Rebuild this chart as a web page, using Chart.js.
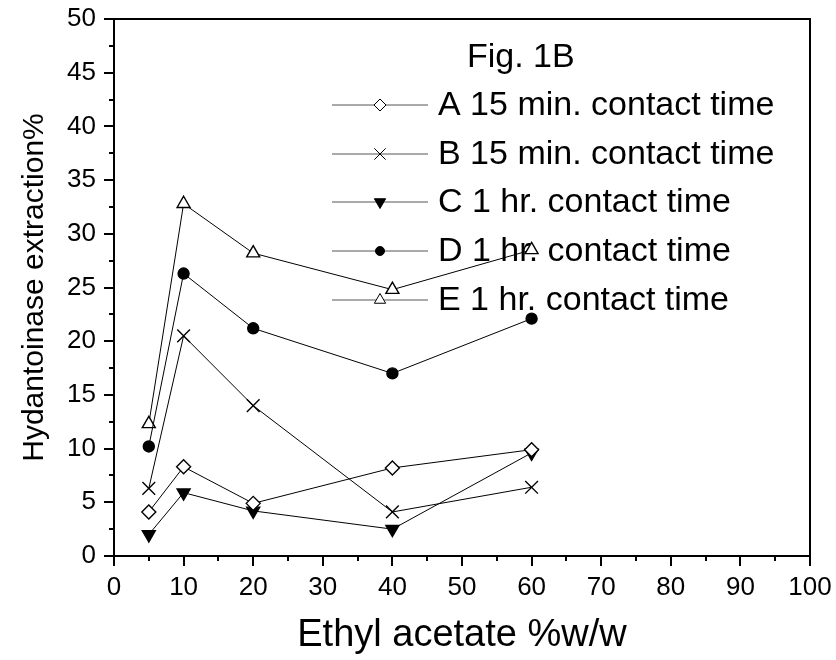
<!DOCTYPE html>
<html>
<head>
<meta charset="utf-8">
<script src="https://cdn.jsdelivr.net/npm/chart.js@4/dist/chart.umd.min.js"></script>
<style>
  html, body { margin: 0; padding: 0; background: #fff; }
  #wrap { width: 836px; height: 660px; }
</style>
</head>
<body>
<div id="wrap"><canvas id="myChart" width="836" height="660"></canvas></div>
<script>
// ethyl acetate %w/w
const ethylAcetate = [5, 10, 20, 40, 60];

// hydantoinase extraction %
const seriesA = [4.1, 8.3, 4.9, 8.2, 9.9];
const seriesB = [6.3, 20.5, 14.0, 4.1, 6.4];
const seriesC = [2.0, 5.9, 4.2, 2.5, 9.6];
const seriesD = [10.2, 26.3, 21.2, 17.0, 22.1];
const seriesE = [12.3, 32.8, 28.2, 24.8, 28.5];

const seriesLabels = [
  'A 15 min. contact time',
  'B 15 min. contact time',
  'C 1 hr. contact time',
  'D 1 hr. contact time',
  'E 1 hr. contact time',
];

const xTicks = [0, 10, 20, 30, 40, 50, 60, 70, 80, 90, 100];
const yTicks = [0, 5, 10, 15, 20, 25, 30, 35, 40, 45, 50];

const FONT = "'Liberation Sans', Arial, sans-serif";

// marker styles for each series
const markers = [
  { pointStyle: 'rectRot', radius: 7, rotation: 0, fill: '#fff' },
  { pointStyle: 'crossRot', radius: 9, rotation: 0, fill: '#000' },
  { pointStyle: 'triangle', radius: 7.5, rotation: 180, fill: '#000' },
  { pointStyle: 'circle', radius: 5.5, rotation: 0, fill: '#000' },
  { pointStyle: 'triangle', radius: 7.5, rotation: 0, fill: '#fff' },
];

const allSeries = [seriesA, seriesB, seriesC, seriesD, seriesE];

const datasets = allSeries.map((vals, i) => ({
  label: seriesLabels[i],
  data: vals.map((v, j) => ({ x: ethylAcetate[j], y: v })),
  showLine: true,
  borderColor: '#000',
  borderWidth: 1,
  pointStyle: markers[i].pointStyle,
  pointRadius: markers[i].radius,
  pointRotation: markers[i].rotation,
  pointBackgroundColor: markers[i].fill,
  pointBorderColor: '#000',
  pointBorderWidth: 1.4,
  tension: 0,
}));

// minor/major tick marks, frame and the in-plot legend
const decorPlugin = {
  id: 'decor',
  afterDraw(chart) {
    const ctx = chart.ctx;
    const area = chart.chartArea;
    const xs = chart.scales.x;
    const ys = chart.scales.y;
    ctx.save();
    ctx.strokeStyle = '#000';
    ctx.lineWidth = 2;
    ctx.strokeRect(area.left, area.top, area.right - area.left, area.bottom - area.top);

    // x ticks
    for (let v = 0; v <= 100; v += 5) {
      const px = Math.round(xs.getPixelForValue(v));
      const len = xTicks.includes(v) ? 10 : 5;
      ctx.beginPath();
      ctx.moveTo(px, area.bottom);
      ctx.lineTo(px, area.bottom + len);
      ctx.stroke();
    }
    // y ticks
    for (let v = 0; v <= 50; v += 2.5) {
      const py = Math.round(ys.getPixelForValue(v));
      const len = yTicks.includes(v) ? 10 : 5;
      ctx.beginPath();
      ctx.moveTo(area.left, py);
      ctx.lineTo(area.left - len, py);
      ctx.stroke();
    }

    // legend
    ctx.fillStyle = '#000';
    ctx.textBaseline = 'middle';
    ctx.textAlign = 'left';
    ctx.font = '34px ' + FONT;
    ctx.fillText('Fig. 1B', 467, 58);
    const rowY = [105, 154, 202, 251, 300];
    seriesLabels.forEach((lab, i) => {
      const y = rowY[i];
      ctx.strokeStyle = '#555';
      ctx.lineWidth = 1;
      ctx.beginPath();
      ctx.moveTo(332, y);
      ctx.lineTo(428, y);
      ctx.stroke();
      ctx.fillStyle = markers[i].fill;
      ctx.strokeStyle = '#000';
      Chart.helpers.drawPoint(ctx, {
        pointStyle: markers[i].pointStyle,
        radius: markers[i].radius - 1,
        rotation: markers[i].rotation,
        borderWidth: 1.3,
      }, 380, y);
      ctx.fillStyle = '#000';
      ctx.fillText(lab, 438, y + 1);
    });
    ctx.restore();
  },
};

const ctx = document.getElementById('myChart').getContext('2d');
new Chart(ctx, {
  type: 'scatter',
  data: { datasets },
  options: {
    responsive: false,
    animation: false,
    layout: { padding: { top: 19, right: 26, left: 0, bottom: 0 } },
    plugins: {
      legend: { display: false },
      tooltip: { enabled: false },
    },
    scales: {
      x: {
        type: 'linear',
        min: 0,
        max: 100,
        afterFit(scale) {
          scale.height = 104;
          scale.paddingLeft = 0;
          scale.paddingRight = 0;
        },
        grid: { display: false, drawTicks: false },
        border: { display: true, color: '#000', width: 2 },
        ticks: {
          stepSize: 10,
          autoSkip: false,
          maxRotation: 0,
          padding: 16,
          color: '#000',
          font: { family: FONT, size: 26 },
        },
        title: {
          display: true,
          text: 'Ethyl acetate %w/w',
          color: '#000',
          font: { family: FONT, size: 38 },
          padding: { top: 0, bottom: 2 },
        },
      },
      y: {
        type: 'linear',
        min: 0,
        max: 50,
        afterFit(scale) {
          scale.width = 114;
          scale.paddingTop = 0;
          scale.paddingBottom = 0;
        },
        grid: { display: false, drawTicks: false },
        border: { display: true, color: '#000', width: 2 },
        ticks: {
          stepSize: 5,
          autoSkip: false,
          padding: 18,
          color: '#000',
          font: { family: FONT, size: 26 },
        },
        title: {
          display: true,
          text: 'Hydantoinase extraction%',
          color: '#000',
          font: { family: FONT, size: 30 },
          padding: { top: 17, bottom: 0 },
        },
      },
    },
  },
  plugins: [decorPlugin],
});
</script>
</body>
</html>
